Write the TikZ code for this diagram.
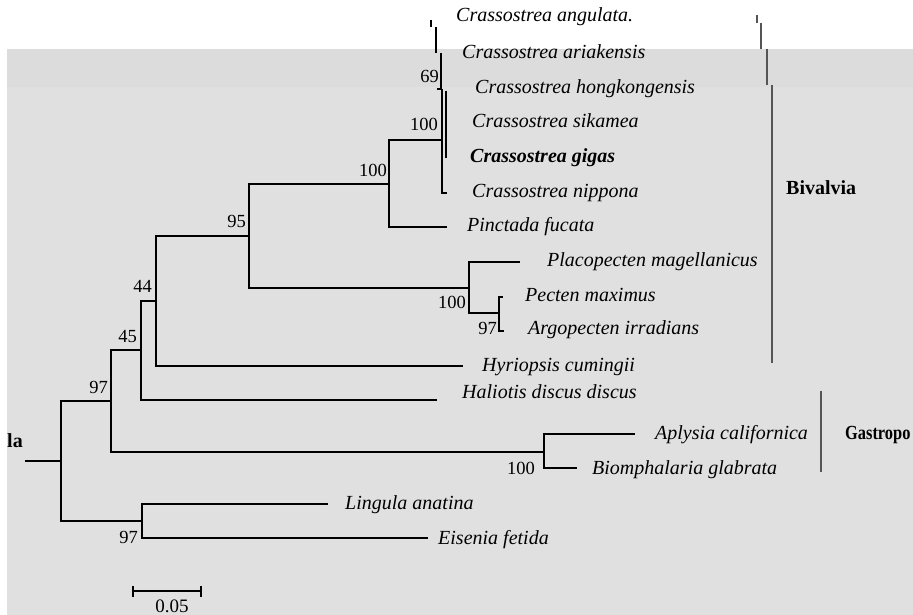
\documentclass[tikz,border=0pt]{standalone}
\usepackage{fontspec}
\setmainfont{Liberation Serif}
\usepackage{xcolor}
\usetikzlibrary{positioning}
\definecolor{bgray}{RGB}{224,224,224}
\definecolor{dgray}{RGB}{220,220,220}
\definecolor{kgray}{RGB}{85,85,85}
\tikzset{
  br/.style={line width=1.2pt, black},
  bk/.style={line width=1.3pt, kgray},
  tx/.style={anchor=base west, inner sep=0pt, font=\fontsize{20}{20}\selectfont\itshape},
  bs/.style={anchor=base east, inner sep=0pt, font=\fontsize{18.5}{18.5}\selectfont},
  grp/.style={anchor=base west, inner sep=0pt, font=\fontsize{20}{20}\selectfont\bfseries},
  phylo/.style={x=1pt, y=-1pt}
}
\begin{document}
\begin{tikzpicture}[phylo]
        \useasboundingbox (0,0) rectangle (913,615);
        \fill[bgray] (7,49) rectangle (913,615);
        \fill[dgray] (7,49) rectangle (913,87);
        % inner nodes
        \coordinate (rt) at (25,461);
        \coordinate (r) at (61,461);
        \coordinate (n1) at (111,401);
        \coordinate (n2) at (141,350);
        \coordinate (n3) at (156,301);
        \coordinate (n4) at (249,236);
        \coordinate (n5) at (389,184);
        \coordinate (n6) at (442,140);
        \coordinate (n6t) at (442,89);
        \coordinate (n7) at (469,288);
        \coordinate (n8) at (499,313);
        \coordinate (g1) at (544,452);
        \coordinate (o1) at (142,521);
        % tips
        \coordinate (tNip) at (447,193);
        \coordinate (tPin) at (447,227);
        \coordinate (tPla) at (520,262);
        \coordinate (tPec) at (503,297);
        \coordinate (tArg) at (504,331);
        \coordinate (tHyr) at (463,366);
        \coordinate (tHal) at (437,400);
        \coordinate (tApl) at (635,434);
        \coordinate (tBio) at (577,468);
        \coordinate (tLin) at (328,504);
        \coordinate (tEis) at (428,538);
        \coordinate (gg1) at (446,91);
        \coordinate (gg2) at (446,158);
        \coordinate (s1) at (431,20);
        \coordinate (s2) at (431,27);
        \coordinate (s3) at (436,27);
        \coordinate (s4) at (436,53);
        \coordinate (s5) at (441,53);
        \coordinate (s6) at (441,89);
        \coordinate (s7) at (437,89);
        \draw[br] (rt) -- (r);
        \draw[br] (r) |- (n1);
        \draw[br] (r) |- (o1);
        \draw[br] (n1) |- (n2);
        \draw[br] (n1) |- (g1);
        \draw[br] (n2) |- (n3);
        \draw[br] (n2) |- (tHal);
        \draw[br] (n3) |- (n4);
        \draw[br] (n3) |- (tHyr);
        \draw[br] (n4) |- (n5);
        \draw[br] (n4) |- (n7);
        \draw[br] (n5) |- (n6);
        \draw[br] (n5) |- (tPin);
        \draw[br] (n6t) |- (tNip);
        \draw[br] (gg1) -- (gg2);
        \draw[br] (n7) |- (tPla);
        \draw[br] (n7) |- (n8);
        \draw[br] (n8) |- (tPec);
        \draw[br] (n8) |- (tArg);
        \draw[br] (g1) |- (tApl);
        \draw[br] (g1) |- (tBio);
        \draw[br] (o1) |- (tLin);
        \draw[br] (o1) |- (tEis);
        \draw[br] (s1) -- (s2);
        \draw[br] (s3) -- (s4);
        \draw[br] (s7) -- (s6) -- (s5);
        % taxa
        \node[tx] (Cang) at (456,22) {Crassostrea angulata.};
        \node[tx] (Cari) at (462,59) {Crassostrea ariakensis};
        \node[tx] (Chon) at (475,94) {Crassostrea hongkongensis};
        \node[tx] (Csik) at (472,128) {Crassostrea sikamea};
        \node[tx, font=\fontsize{20}{20}\selectfont\bfseries\itshape] (Cgig) at (470,163) {Crassostrea gigas};
        \node[tx] (Cnip) at (472,197) {Crassostrea nippona};
        \node[tx] (Pfuc) at (467,231) {Pinctada fucata};
        \node[tx] (Pmag) at (547,266) {Placopecten magellanicus};
        \node[tx] (Pmax) at (525,301) {Pecten maximus};
        \node[tx] (Airr) at (528,334) {Argopecten irradians};
        \node[tx] (Hcum) at (482,371) {Hyriopsis cumingii};
        \node[tx] (Hdis) at (462,398) {Haliotis discus discus};
        \node[tx] (Acal) at (655,439) {Aplysia californica};
        \node[tx] (Bgla) at (592,474) {Biomphalaria glabrata};
        \node[tx] (Lana) at (345,509) {Lingula anatina};
        \node[tx] (Efet) at (438,544) {Eisenia fetida};
        % bootstrap values
        \node[bs] (b1) at (108,393) {97};
        \node[bs] (b2) at (137,342) {45};
        \node[bs] (b3) at (152,292) {44};
        \node[bs] (b4) at (246,227) {95};
        \node[bs] (b5) at (387,176) {100};
        \node[bs] (b6) at (438,131) {100};
        \node[bs] (b7) at (439,83) {69};
        \node[bs] (b8) at (466,308) {100};
        \node[bs] (b9) at (497,334) {97};
        \node[bs] (b10) at (535,474) {100};
        \node[bs] (b11) at (138,543) {97};
        % groups
        \coordinate (k1) at (757,15);
        \coordinate (k2) at (757,23);
        \coordinate (k3) at (761,23);
        \coordinate (k4) at (761,49);
        \coordinate (k5) at (767,49);
        \coordinate (k6) at (767,85);
        \coordinate (k7) at (772,85);
        \coordinate (k8) at (772,363);
        \coordinate (q1) at (821,391);
        \coordinate (q2) at (821,472);
        \draw[bk] (k1) -- (k2);
        \draw[bk] (k3) -- (k4);
        \draw[bk] (k5) -- (k6);
        \draw[bk] (k7) -- (k8);
        \draw[bk] (q1) -- (q2);
        \node[grp] (Biv) at (786,194) {Bivalvia};
        \node[grp, xscale=0.82, transform shape] (Gas) at (845,439) {Gastropo};
        \node[grp] (Out) at (7,447) {la};
        % scale bar
        \coordinate (sb1) at (133,591);
        \coordinate (sb2) at (201,591);
        \draw[br] (sb1) -- (sb2);
        \draw[br] ([yshift=5pt]sb1) -- ([yshift=-6pt]sb1);
        \draw[br] ([yshift=5pt]sb2) -- ([yshift=-6pt]sb2);
        \node[anchor=base, inner sep=0pt, font=\fontsize{19}{19}\selectfont] (sbl) at (172,612) {0.05};
      \end{tikzpicture}
\end{document}
